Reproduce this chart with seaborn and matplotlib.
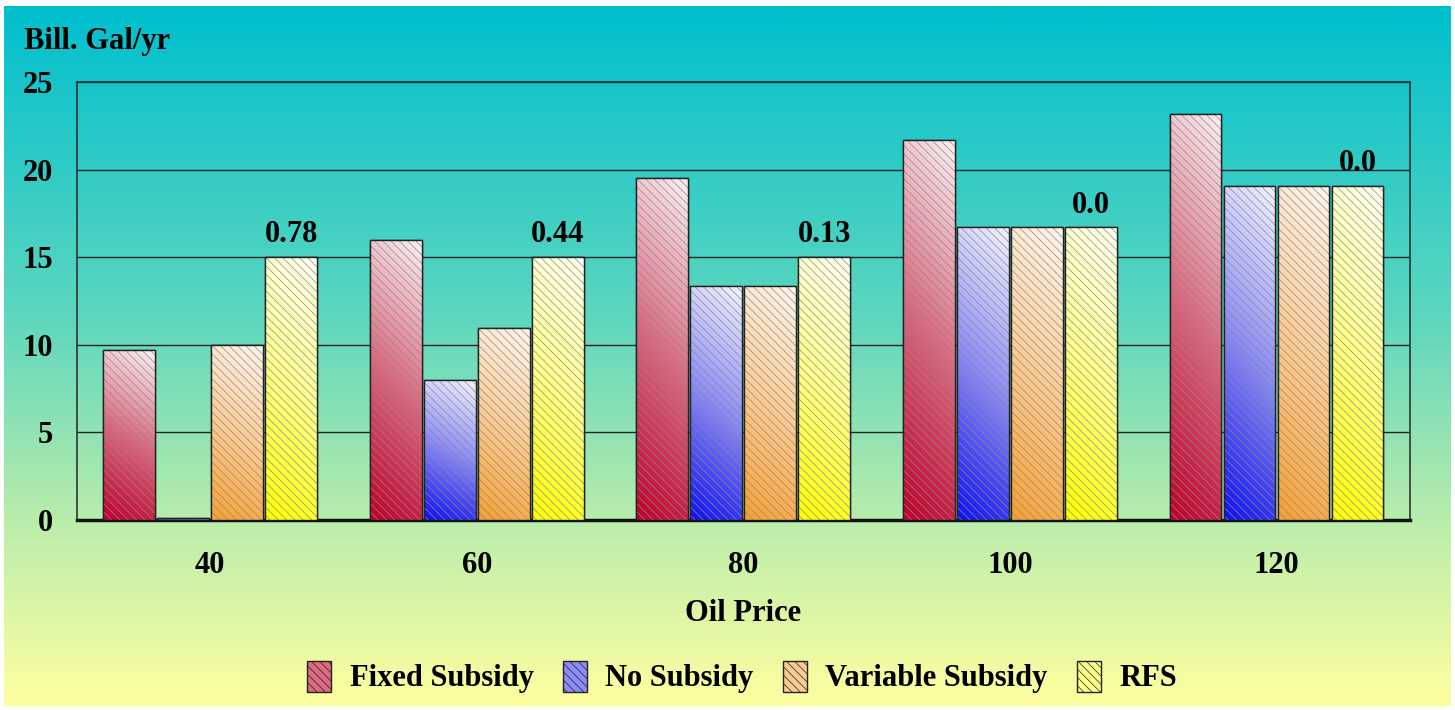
import numpy as np
import pandas as pd
import seaborn as sns
import matplotlib.pyplot as plt
from matplotlib.colors import LinearSegmentedColormap
from matplotlib.patches import Rectangle

prices = ['40', '60', '80', '100', '120']
scenarios = ['Fixed Subsidy', 'No Subsidy', 'Variable Subsidy', 'RFS']
fixed_subsidy = [9.7, 16.0, 19.5, 21.7, 23.2]
no_subsidy = [0.1, 8.0, 13.35, 16.7, 19.05]
variable_subsidy = [10.0, 10.95, 13.35, 16.7, 19.05]
rfs = [15.0, 15.0, 15.0, 16.7, 19.05]
rfs_labels = ['0.78', '0.44', '0.13', '0.0', '0.0']

# bottom (dark) -> top (light) colours per scenario
grad = {
    'Fixed Subsidy': ['#C0002A', '#DC6A80', '#FBF0F3'],
    'No Subsidy': ['#1010F0', '#8C8CF8', '#F2F2FF'],
    'Variable Subsidy': ['#F8A030', '#FCCC94', '#FFF6EE'],
    'RFS': ['#FFFF00', '#FFFF88', '#FFFFF2'],
}
mid = {k: v[1] for k, v in grad.items()}

df = pd.DataFrame({'price': prices * 4,
                   'scenario': np.repeat(scenarios, 5),
                   'value': fixed_subsidy + no_subsidy + variable_subsidy + rfs})

sns.set_theme(style='white')
plt.rcParams['font.family'] = ['Liberation Serif', 'DejaVu Serif']
plt.rcParams['font.weight'] = 'bold'
plt.rcParams['text.color'] = 'black'
plt.rcParams['xtick.color'] = 'black'
plt.rcParams['ytick.color'] = 'black'
plt.rcParams['axes.labelcolor'] = 'black'
plt.rcParams['hatch.linewidth'] = 0.5

fig = plt.figure(figsize=(14.55, 7.1), dpi=100)
fig.patch.set_facecolor('white')

# background gradient
bg = fig.add_axes([0.003, 0.006, 0.994, 0.985], zorder=-5)
bg_cmap = LinearSegmentedColormap.from_list(
    'bg', [(0, '#00BFCE'), (0.45, '#5FD7BE'), (0.75, '#BEEEAA'), (1, '#FFFFA0')])
bg.imshow(np.linspace(0, 1, 256).reshape(-1, 1), aspect='auto', cmap=bg_cmap,
          extent=(0, 1, 0, 1))
bg.set_axis_off()

ax = fig.add_axes([0.0529, 0.2676, 0.916, 0.6169])
ax.set_facecolor('none')
sns.barplot(data=df, x='price', y='value', hue='scenario', hue_order=scenarios,
            palette=mid, width=0.81, gap=0.04, edgecolor='#222222', linewidth=1.0,
            legend=False, ax=ax, zorder=3)

patches = list(ax.patches)
for i, p in enumerate(patches):
    name = scenarios[i // 5]
    cmap = LinearSegmentedColormap.from_list(name, grad[name])
    x0, y0 = p.get_x(), p.get_y()
    w, h = p.get_width(), p.get_height()
    if h <= 0:
        continue
    yy, xx = np.mgrid[0:1:100j, 0:1:20j]
    img = 0.85 * yy + 0.15 * xx
    im = ax.imshow(img, origin='lower', cmap=cmap, aspect='auto',
                   extent=(x0, x0 + w, y0, y0 + h), zorder=3.5)
    im.set_clip_path(p)
    ax.add_patch(Rectangle((x0, y0), w, h, facecolor='none', edgecolor='#8a8a8a',
                           linewidth=0, hatch='\\\\\\\\', zorder=3.6))
    ax.add_patch(Rectangle((x0, y0), w, h, facecolor='none', edgecolor='#222222',
                           linewidth=1.0, zorder=3.7))

ax.set_xlim(-0.5, 4.5)
ax.set_ylim(0, 25)

rfs_patches = patches[15:20]
for p, lab in zip(rfs_patches, rfs_labels):
    ax.text(p.get_x() + p.get_width() / 2, p.get_height() + 0.45, lab,
            ha='center', va='bottom', fontsize=22, fontweight='bold', zorder=5)

ax.set_yticks([0, 5, 10, 15, 20, 25])
ax.yaxis.grid(True, color='#222222', linewidth=1.0)
ax.set_axisbelow(True)
ax.tick_params(axis='y', length=0, labelsize=22, pad=17)
ax.tick_params(axis='x', length=0, labelsize=22, pad=22)
for lab in ax.get_xticklabels() + ax.get_yticklabels():
    lab.set_fontweight('bold')
for side in ['left', 'top', 'right']:
    ax.spines[side].set_color('#333333')
    ax.spines[side].set_linewidth(1.2)
ax.spines['bottom'].set_color('#111111')
ax.spines['bottom'].set_linewidth(2.5)
ax.set_ylabel('')
ax.set_xlabel('Oil Price', fontsize=22, fontweight='bold', labelpad=14)

fig.text(24 / 1455, 1 - 42 / 710, 'Bill. Gal/yr', fontsize=22, fontweight='bold',
         ha='left', va='center')

handles = [Rectangle((0, 0), 1, 1, facecolor=mid[s], edgecolor='#222222',
                     linewidth=1.0, hatch='\\\\\\\\') for s in scenarios]
fig.legend(handles, scenarios, loc='center', bbox_to_anchor=(742 / 1455, 1 - 677 / 710),
           ncol=4, frameon=False, handlelength=0.8, handleheight=1.2,
           handletextpad=0.6, columnspacing=0.95, prop={'weight': 'bold', 'size': 22})

fig.savefig('out.png', dpi=100)
